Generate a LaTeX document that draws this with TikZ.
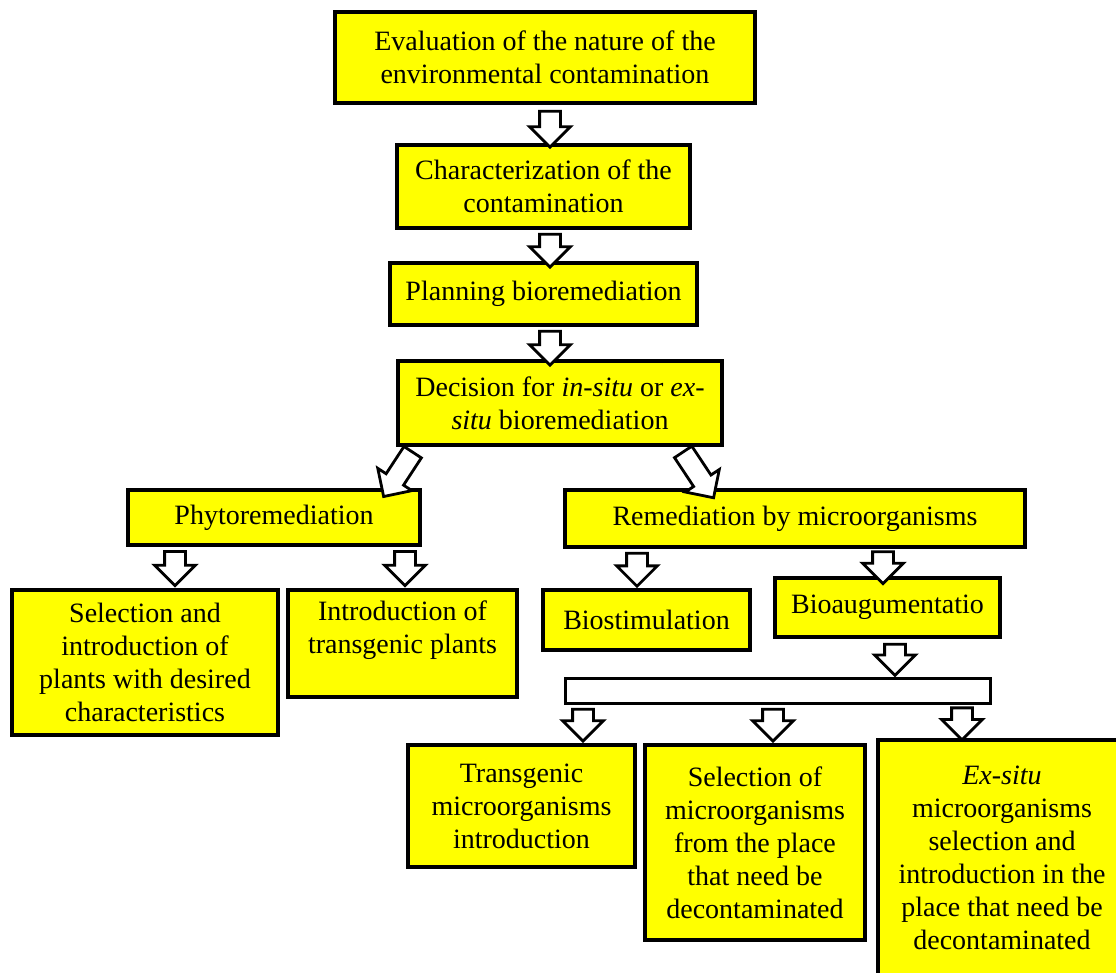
\documentclass[tikz,border=0pt]{standalone}
\usepackage{fontspec}
\setmainfont{Liberation Serif}
\usetikzlibrary{shapes.arrows,calc}
\definecolor{stageyellow}{RGB}{255,255,0}

\begin{document}
\begin{tikzpicture}[x=1pt,y=-1pt,font=\fontsize{28}{33}\selectfont,
    stage/.style={draw,line width=3.5pt,fill=stageyellow,align=center,inner sep=4pt},
    flow/.style={single arrow,draw,fill=white,line width=2.8pt,minimum height=#1,
      inner xsep=0pt,inner ysep=9pt,single arrow head extend=10pt,
      sloped,allow upside down}]
    \useasboundingbox (0,0) rectangle (1116,972);
    \clip (0,0) rectangle (1116,972);
    \node[stage,minimum width=420,minimum height=91] (eval) at (545,57.5) {Evaluation of the nature of the\\environmental contamination};
    \node[stage,minimum width=293,minimum height=83] (char) at (543.5,186.5) {Characterization of the\\contamination};
    \node[stage,minimum width=307,minimum height=62] (plan) at (543.5,294) {Planning bioremediation};
    \node[stage,minimum width=324,minimum height=84] (decide) at (560,403) {Decision for \textit{in-situ} or \textit{ex-}\\\textit{situ} bioremediation};
    \node[stage,minimum width=292,minimum height=55] (phyto) at (274,517.5) {Phytoremediation};
    \node[stage,minimum width=460,minimum height=57] (remed) at (795,518.5) {Remediation by microorganisms};
    \node[stage,minimum width=266,minimum height=145] (selplant) at (145,662.5) {Selection and\\introduction of\\plants with desired\\characteristics};
    \node[stage,minimum width=229,minimum height=107] (transplant) at (402.5,643.5) {Introduction of\\transgenic plants\\\mbox{}};
    \node[stage,minimum width=207,minimum height=60] (biostim) at (646.5,620) {Biostimulation};
    \node[stage,minimum width=225,minimum height=59] (bioaug) at (887.5,607.5) {Bioaugumentatio};
    \node[draw,line width=3pt,fill=white,minimum width=425,minimum height=25] (bar) at (777.5,690.5) {};
    \node[stage,minimum width=227,minimum height=122] (transmic) at (521.5,806) {Transgenic\\microorganisms\\introduction};
    \node[stage,minimum width=220,minimum height=195] (selmic) at (755,842.5) {Selection of\\microorganisms\\from the place\\that need be\\decontaminated};
    \node[stage,minimum width=248,minimum height=235] (exsitu) at (1002,857.5) {\textit{Ex-situ}\\microorganisms\\selection and\\introduction in the\\place that need be\\decontaminated};
    \path (550,0 |- eval.south) -- node[flow=36] (a1) {} (550,0 |- char.north);
    \path (550,0 |- char.south) -- node[flow=33] (a2) {} (550,0 |- plan.north);
    \path (550,0 |- plan.south) -- node[flow=34] (a3) {} (550,0 |- decide.north);
    \path ($(decide.south west)+(18,3)$) -- node[flow=53] (a4) {} ($(phyto.north east)+(-34,2)$);
    \path ($(decide.south east)+(-42,3)$) -- node[flow=55] (a5) {} ($(remed.north west)+(146,3)$);
    \path (175,0 |- phyto.south) -- node[flow=34,pos=.4] (a6) {} (175,0 |- selplant.north);
    \path (405,0 |- phyto.south) -- node[flow=34,pos=.4] (a7) {} (405,0 |- transplant.north);
    \path (637,0 |- remed.south) -- node[flow=33,pos=.4] (a8) {} (637,0 |- biostim.north);
    \path (883,0 |- remed.south) -- node[flow=32] (a9) {} (883,0 |- bioaug.north);
    \path (895,0 |- bioaug.south) -- node[flow=31,pos=.42] (a10) {} (895,0 |- bar.north);
    \path (583,0 |- bar.south) -- node[flow=32,pos=.4] (a11) {} (583,0 |- transmic.north);
    \path (773,0 |- bar.south) -- node[flow=32,pos=.4] (a12) {} (773,0 |- selmic.north);
    \path (962,0 |- bar.south) -- node[flow=32,pos=.42] (a13) {} (962,0 |- exsitu.north);
\end{tikzpicture}
\end{document}
